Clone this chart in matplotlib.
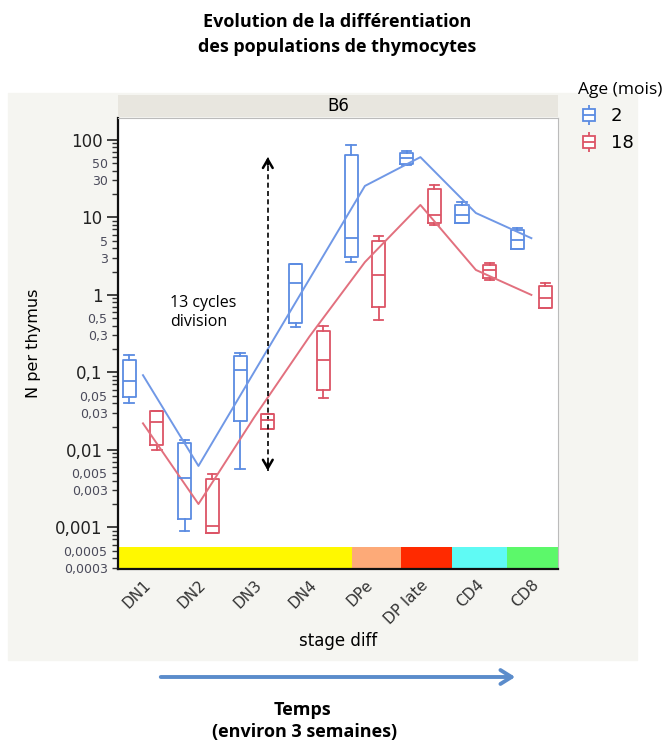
import numpy as np
import matplotlib
matplotlib.use("Agg")
import matplotlib.pyplot as plt
from matplotlib.patches import Rectangle, FancyArrowPatch
from matplotlib.lines import Line2D
from matplotlib.ticker import FixedLocator, FuncFormatter, LogLocator

# stages of thymocyte differentiation
stages = ["DN1", "DN2", "DN3", "DN4", "DPe", "DP late", "CD4", "CD8"]

# box stats per stage: whisker low, q1, median, q3, whisker high
age2_low = [0.040, 0.00091, 0.0056, 0.38, 2.65, 48, 8.4, 3.9]
age2_q1 = [0.048, 0.0013, 0.0234, 0.43, 3.07, 49, 8.4, 3.9]
age2_med = [0.077, 0.0043, 0.107, 1.42, 5.4, 58.5, 10.7, 5.1]
age2_q3 = [0.144, 0.0122, 0.165, 2.5, 64, 68.5, 14.4, 6.9]
age2_high = [0.167, 0.0133, 0.177, 2.5, 86, 73, 16, 7.2]
age2_mean = [0.092, 0.0062, 0.10, 1.6, 25.5, 60, 11.4, 5.4]

age18_low = [0.0099, 0.00084, 0.0188, 0.047, 0.48, 8.0, 1.55, 0.67]
age18_q1 = [0.0115, 0.00084, 0.0188, 0.060, 0.70, 8.4, 1.63, 0.67]
age18_med = [0.0226, 0.00103, 0.0241, 0.144, 1.8, 10.7, 2.09, 0.90]
age18_q3 = [0.0318, 0.0042, 0.0294, 0.344, 5.0, 23, 2.43, 1.30]
age18_high = [0.0318, 0.0049, 0.0294, 0.395, 5.8, 26, 2.6, 1.43]
age18_mean = [0.022, 0.002, 0.026, 0.29, 2.65, 14.5, 2.1, 1.0]

# coloured stage band under the plot (edges in category units)
band_edges = [-0.45, 3.77, 4.65, 5.57, 6.56, 7.48]
band_colors = ["#fff800", "#fdaa78", "#ff2a00", "#5ffaf4", "#5cf86a"]

# "13 cycles division" arrow
arrow_x = 2.25
arrow_lo = 0.0054
arrow_hi = 60

blue = "#5b8be2"
blue_line = "#7098e6"
red = "#dc5466"
red_line = "#e2707e"


def make_stats(low, q1, med, q3, high):
    stats = []
    for a, b, c, d, e in zip(low, q1, med, q3, high):
        stats.append(dict(whislo=a, q1=b, med=c, q3=d, whishi=e, fliers=[]))
    return stats


def draw_boxes(ax, stats, pos, color):
    props = dict(color=color, linewidth=1.3)
    ax.bxp(stats, positions=pos, widths=0.235, capwidths=0.17, showfliers=False,
           boxprops=props, whiskerprops=props, capprops=props,
           medianprops=props, manage_ticks=False)


fig = plt.figure(figsize=(6.72, 7.44), dpi=100)
W, H = 672., 744.

# light grey panel behind the plot
fig.patches.append(Rectangle((8 / W, 1 - 660 / H), 629 / W, 567 / H,
                             transform=fig.transFigure, color="#f5f5f1", zorder=-5))

ax = fig.add_axes([118 / W, 1 - 569 / H, 440 / W, 451 / H])
ax.set_facecolor("white")
x = np.arange(len(stages))

draw_boxes(ax, make_stats(age2_low, age2_q1, age2_med, age2_q3, age2_high), x - 0.25, blue)
draw_boxes(ax, make_stats(age18_low, age18_q1, age18_med, age18_q3, age18_high), x + 0.25, red)
ax.plot(x, age2_mean, color=blue_line, lw=1.4)
ax.plot(x, age18_mean, color=red_line, lw=1.4)

ax.set_yscale("log")
ax.set_ylim(0.00029, 192)
ax.set_xlim(-0.45, 7.48)

for i in range(len(band_colors)):
    ax.fill_between([band_edges[i], band_edges[i + 1]], 0.00029, 0.00056,
                    color=band_colors[i], lw=0, zorder=1)

# dashed double arrow
ax.plot([arrow_x, arrow_x], [arrow_lo, arrow_hi], color="black", lw=1.2, ls=(0, (3, 2)))
hd = dict(arrowstyle="->,head_length=0.6,head_width=0.35", lw=1.8, color="black",
          shrinkA=0, shrinkB=0)
ax.annotate("", xy=(arrow_x, arrow_hi), xytext=(arrow_x, arrow_hi * 0.8), arrowprops=hd)
ax.annotate("", xy=(arrow_x, arrow_lo), xytext=(arrow_x, arrow_lo * 1.25), arrowprops=hd)
ax.text(0.49, 0.6, "13 cycles\ndivision", fontsize=11.5, family="Open Sans",
        ha="left", va="center", linespacing=1.25)

# ticks
def fmt(v):
    return ("%g" % v).replace(".", ",")

ax.yaxis.set_major_locator(FixedLocator([10.0 ** k for k in range(-3, 3)]))
ax.yaxis.set_major_formatter(FuncFormatter(lambda v, p: fmt(v)))
ax.yaxis.set_minor_locator(LogLocator(base=10, subs=np.arange(2, 10)))

def minor_fmt(v, p):
    m = v / 10 ** np.floor(np.log10(v) + 1e-9)
    if abs(m - 3) < 0.01 or abs(m - 5) < 0.01:
        return fmt(float("%.1g" % v))
    return ""

ax.yaxis.set_minor_formatter(FuncFormatter(minor_fmt))
ax.tick_params(axis="y", which="major", length=8, width=1.2, labelsize=12, colors="#222", pad=3)
ax.tick_params(axis="y", which="minor", length=4.5, width=1, labelsize=9, colors="#333", pad=3)
for t in ax.yaxis.get_minorticklabels():
    t.set_color("#4a4a5a")

ax.set_xticks(x)
ax.set_xticklabels(stages, rotation=45, ha="right", rotation_mode="anchor", fontsize=11,
                   color="#333")
ax.tick_params(axis="x", length=0, pad=6)

for s in ["left", "bottom"]:
    ax.spines[s].set_linewidth(1.6)
    ax.spines[s].set_color("#111")
for s in ["top", "right"]:
    ax.spines[s].set_linewidth(0.8)
    ax.spines[s].set_color("#bbbbbb")

ax.set_ylabel("N per thymus", fontsize=11.5, labelpad=10)
ax.set_xlabel("stage diff", fontsize=12, labelpad=4)

# facet strip
strip = fig.add_axes([118 / W, 1 - 117 / H, 440 / W, 22 / H])
strip.set_facecolor("#e8e6df")
strip.set_xticks([])
strip.set_yticks([])
for s in strip.spines.values():
    s.set_visible(False)
strip.text(0.5, 0.5, "B6", ha="center", va="center", fontsize=12, transform=strip.transAxes)

# legend
h2 = (Line2D([], [], color=blue, marker="|", ms=15, mew=1.3, ls="none"),
      Line2D([], [], color=blue, marker="s", ms=8, mfc="white", mew=1.3, ls="none"),
      Line2D([], [], color=blue, marker="_", ms=8, mew=1.3, ls="none"))
h18 = (Line2D([], [], color=red, marker="|", ms=15, mew=1.3, ls="none"),
       Line2D([], [], color=red, marker="s", ms=8, mfc="white", mew=1.3, ls="none"),
       Line2D([], [], color=red, marker="_", ms=8, mew=1.3, ls="none"))
leg = fig.legend([h2, h18], ["2", "18"], title="Age (mois)", loc="upper left",
                 bbox_to_anchor=(562 / W, 1 - 66 / H), frameon=False, fontsize=13,
                 title_fontsize=12.5, handlelength=1.2, handletextpad=0.6,
                 labelspacing=0.5, alignment="left")
leg.get_title().set_family("Open Sans")

# titles
fig.text(337 / W, 1 - 22 / H, "Evolution de la différentiation", ha="center", va="center",
         fontsize=13, fontweight="bold", family="Open Sans")
fig.text(337 / W, 1 - 47 / H, "des populations de thymocytes", ha="center", va="center",
         fontsize=13, fontweight="bold", family="Open Sans")

# time arrow
fig.add_artist(FancyArrowPatch(
    (158 / W, 1 - 677 / H), (518 / W, 1 - 677 / H), transform=fig.transFigure,
    arrowstyle="->,head_length=8,head_width=5", lw=2.8, color="#5b8ccb"))
fig.text(302 / W, 1 - 710 / H, "Temps", ha="center", va="center", fontsize=13,
         fontweight="bold", family="Open Sans")
fig.text(305 / W, 1 - 732 / H, "(environ 3 semaines)", ha="center", va="center", fontsize=13,
         fontweight="bold", family="Open Sans")

fig.savefig("out.png", dpi=100)
